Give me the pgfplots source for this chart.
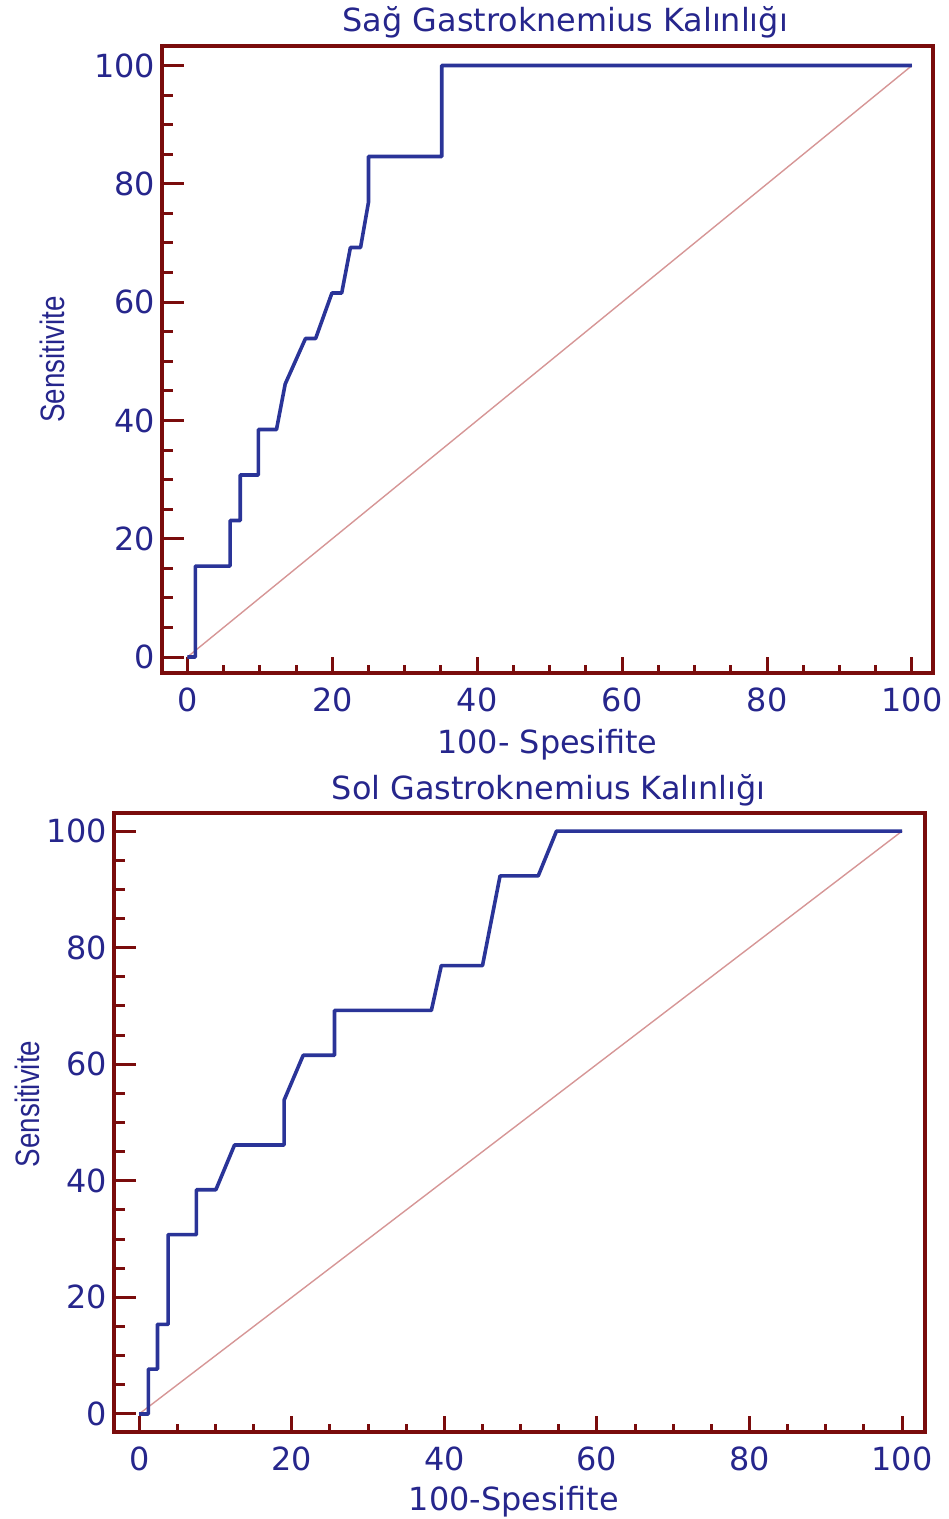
\documentclass[border=0pt]{standalone}
\usepackage{graphicx}
\usepackage{fontspec}
\setmainfont{DejaVu Sans}
\newfontfamily\narrowfont{Liberation Sans}
\usepackage{pgfplots}
\pgfplotsset{compat=1.18}
\definecolor{axisred}{RGB}{122,12,12}
\definecolor{curveblue}{RGB}{42,52,152}
\definecolor{textnavy}{RGB}{38,38,140}
\definecolor{diagpink}{RGB}{214,150,150}
\pgfplotsset{
  rocstyle/.style={
    scale only axis,
    axis line style={axisred, line width=2bp},
    tick pos=left,
    tick align=inside,
    xtick={0,20,...,100}, ytick={0,20,...,100},
    minor x tick num=3, minor y tick num=3,
    every tick/.style={axisred, line width=1.5bp},
    xtick style={/pgfplots/major tick length=8bp, /pgfplots/minor tick length=4bp},
    ytick style={/pgfplots/major tick length=11bp, /pgfplots/minor tick length=5.5bp},
    /pgf/number format/assume math mode=true,
    ticklabel style={font=\fontsize{16}{16}\selectfont, text=textnavy},
    xticklabel style={yshift=-4bp},
    title style={font=\fontsize{16}{16}\selectfont, text=textnavy, anchor=base},
    xlabel style={font=\fontsize{16}{16}\selectfont, text=textnavy, anchor=base},
    ylabel style={font=\narrowfont\fontsize{17}{17}\selectfont, text=textnavy},
  }
}
\begin{document}
\begin{tikzpicture}
\useasboundingbox (0,0) rectangle (474.5bp,-759.5bp);
% top axis
\begin{axis}[rocstyle,
  at={(81bp,-336.5bp)}, anchor=south west,
  width=385.5bp, height=313.5bp,
  xmin=-3.5, xmax=102.9, ymin=-2.7, ymax=103.3,
  title={Sağ Gastroknemius Kalınlığı},
  title style={at={(axis description cs:0.523,1)}, yshift=1.5bp},
  xlabel={100- Spesifite},
  xlabel style={at={(axis description cs:0.5,0)}, yshift=-40bp},
  ylabel={\scalebox{0.82}[1]{Sensitivite}},
  ylabel style={at={(axis description cs:0,0.5)}, anchor=center, yshift=55bp},
]
\addplot[diagpink, line width=0.7bp] coordinates {(0,0) (100,100)};
\addplot[curveblue, line width=1.8bp, line join=round] coordinates {
(0,0) (1.1,0) (1.1,15.38) (5.9,15.38) (5.9,23.08) (7.3,23.08) (7.3,30.77)
(9.8,30.77) (9.8,38.46) (12.3,38.46) (13.5,46.15) (16.3,53.85) (17.7,53.85)
(19.95,61.54) (21.3,61.54) (22.5,69.23) (23.9,69.23) (25.0,76.92) (25.0,84.62)
(35.1,84.62) (35.1,100) (100,100)};
\end{axis}
% bottom axis
\begin{axis}[rocstyle,
  at={(57bp,-716bp)}, anchor=south west,
  width=405.5bp, height=309.5bp,
  xmin=-3.3, xmax=103.0, ymin=-3.1, ymax=103.1,
  title={Sol Gastroknemius Kalınlığı},
  title style={at={(axis description cs:0.536,1)}, yshift=1bp},
  xlabel={100-Spesifite},
  xlabel style={at={(axis description cs:0.493,0)}, yshift=-39bp},
  ylabel={\scalebox{0.82}[1]{Sensitivite}},
  ylabel style={at={(axis description cs:0,0.53)}, anchor=center, yshift=43.5bp},
]
\addplot[diagpink, line width=0.7bp] coordinates {(0,0) (100,100)};
\addplot[curveblue, line width=1.8bp, line join=round] coordinates {
(0,0) (1.2,0) (1.2,7.69) (2.4,7.69) (2.4,15.38) (3.8,15.38) (3.8,30.77)
(7.5,30.77) (7.5,38.46) (10.05,38.46) (12.5,46.15) (19.0,46.15) (19.0,53.85)
(21.5,61.54) (25.6,61.54) (25.6,69.23) (38.3,69.23) (39.6,76.92) (45.0,76.92)
(47.3,92.31) (52.3,92.31) (54.7,100) (100,100)};
\end{axis}
\end{tikzpicture}
\end{document}
